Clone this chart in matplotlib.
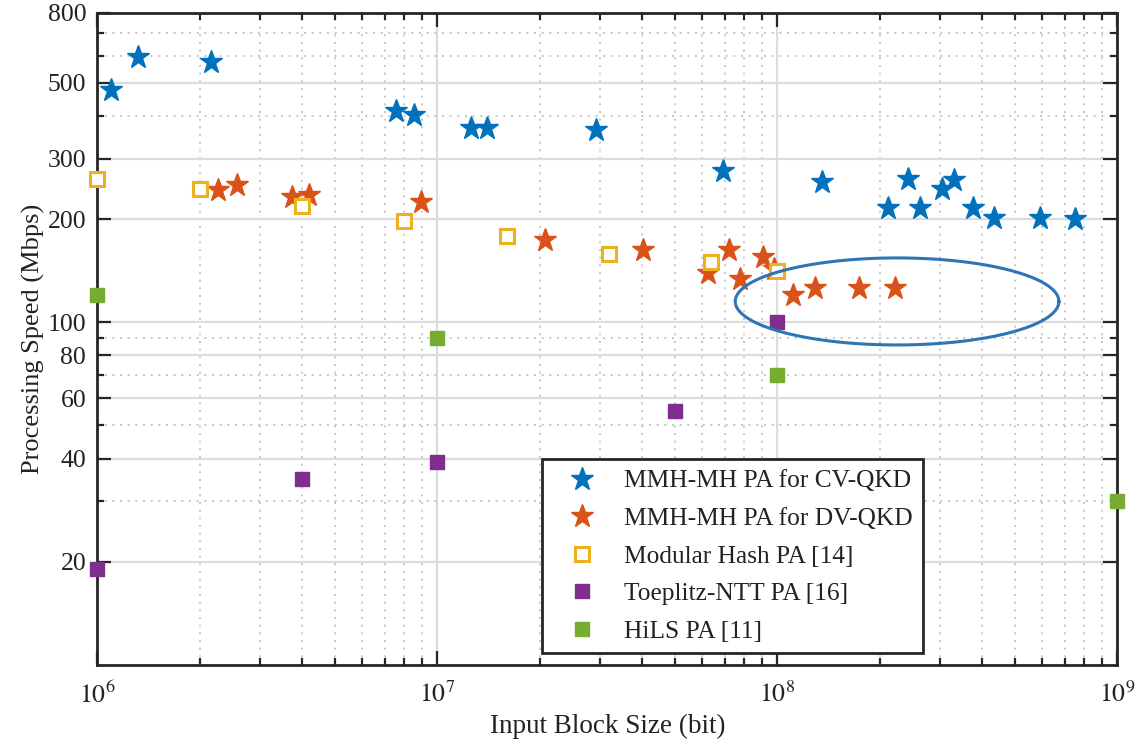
import numpy as np
import matplotlib
matplotlib.use("Agg")
import matplotlib.pyplot as plt
from matplotlib.ticker import FixedLocator, FixedFormatter, NullFormatter

# ---- data -------------------------------------------------------------
cv_size = [1.10e6, 1.32e6, 2.16e6, 7.56e6, 8.54e6, 1.26e7, 1.40e7, 2.93e7,
           6.92e7, 1.35e8, 2.11e8, 2.42e8, 2.62e8, 3.06e8, 3.30e8, 3.77e8,
           4.34e8, 5.91e8, 7.50e8]
cv_speed = [476, 593, 576, 413, 402, 368, 370, 364,
            276, 256, 216, 261, 216, 244, 260, 216,
            201, 202, 200]

dv_size = [2.26e6, 2.58e6, 3.75e6, 4.19e6, 8.98e6, 2.08e7, 4.04e7, 6.27e7,
           7.21e7, 7.76e7, 9.10e7, 9.75e7, 1.11e8, 1.29e8, 1.74e8, 2.22e8]
dv_speed = [243, 252, 232, 235, 225, 174, 162, 139,
            163, 134, 155, 143, 120, 126, 126, 126]

mod_size = [1e6, 2e6, 4e6, 8e6, 1.6e7, 3.2e7, 6.4e7, 1e8]
mod_speed = [261, 244, 219, 197, 178, 158, 150, 141]

ntt_size = [1e6, 4e6, 1e7, 5e7, 1e8]
ntt_speed = [19, 35, 39, 55, 100]

hils_size = [1e6, 1e7, 1e8, 1e9]
hils_speed = [120, 90, 70, 30]

legend_labels = ["MMH-MH PA for CV-QKD", "MMH-MH PA for DV-QKD",
                 "Modular Hash PA [14]", "Toeplitz-NTT PA [16]", "HiLS PA [11]"]

y_major = [20, 40, 60, 80, 100, 200, 300, 500, 800]
y_minor = [30, 50, 70, 90, 400, 600, 700]
x_major = [1e6, 1e7, 1e8, 1e9]
x_major_labels = [r"$10^{6}$", r"$10^{7}$", r"$10^{8}$", r"$10^{9}$"]

# ---- style ------------------------------------------------------------
plt.rcParams["font.family"] = ["Liberation Serif", "DejaVu Serif"]
plt.rcParams["mathtext.fontset"] = "stix"

C_BLUE = "#0072BD"
C_ORANGE = "#D95319"
C_YELLOW = "#EDB120"
C_PURPLE = "#7E2F8E"
C_GREEN = "#77AC30"
C_AXIS = "#262626"
C_TEXT = "#222222"

fig = plt.figure(figsize=(11.37, 7.44), dpi=100)
ax = fig.add_axes([0.0856, 0.1062, 0.8971, 0.8767])
ax.set_xscale("log")
ax.set_yscale("log")
ax.set_xlim(1e6, 1e9)
ax.set_ylim(10, 800)

# grid
ax.grid(True, which="major", color="#dcdcdc", linestyle="-", linewidth=1.6, zorder=0)
ax.grid(True, which="minor", color="#bdbdbd", linestyle=(0, (1.2, 3.4)), linewidth=1.2, zorder=0)
ax.set_axisbelow(True)

# markers
common = dict(linestyle="none", clip_on=False)
ax.plot(cv_size, cv_speed, marker="*", markersize=17, color=C_BLUE,
        markeredgecolor=C_BLUE, label=legend_labels[0], zorder=3, **common)
ax.plot(dv_size, dv_speed, marker="*", markersize=17, color=C_ORANGE,
        markeredgecolor=C_ORANGE, label=legend_labels[1], zorder=3, **common)
ax.plot(mod_size, mod_speed, marker="s", markersize=9.5, markerfacecolor="white",
        markeredgecolor=C_YELLOW, markeredgewidth=2.2, label=legend_labels[2],
        zorder=4, **common)
ax.plot(ntt_size, ntt_speed, marker="s", markersize=10, color=C_PURPLE,
        markeredgecolor=C_PURPLE, label=legend_labels[3], zorder=4, **common)
ax.plot(hils_size, hils_speed, marker="s", markersize=10, color=C_GREEN,
        markeredgecolor=C_GREEN, label=legend_labels[4], zorder=4, **common)

# highlight ellipse around the large-block DV-QKD results (drawn in log space)
t = np.linspace(0, 2 * np.pi, 400)
cx, cy = np.log10(2.25e8), np.log10(115)
a, b = 0.476, 0.127
ax.plot(10 ** (cx + a * np.cos(t)), 10 ** (cy + b * np.sin(t)),
        color="#2E75B6", linewidth=2.2, zorder=5)

# ticks
ax.xaxis.set_major_locator(FixedLocator(x_major))
ax.xaxis.set_major_formatter(FixedFormatter(x_major_labels))
x_minor = [m * 10.0 ** e for e in (6, 7, 8) for m in range(2, 10)]
ax.xaxis.set_minor_locator(FixedLocator(x_minor))
ax.xaxis.set_minor_formatter(NullFormatter())

ax.yaxis.set_major_locator(FixedLocator(y_major))
ax.yaxis.set_major_formatter(FixedFormatter([str(v) for v in y_major]))
ax.yaxis.set_minor_locator(FixedLocator(y_minor))
ax.yaxis.set_minor_formatter(NullFormatter())

ax.tick_params(which="both", direction="in", top=True, right=True,
               color=C_AXIS, width=1.6)
ax.tick_params(which="major", length=10, labelsize=18.5, pad=8, labelcolor=C_TEXT)
ax.tick_params(which="minor", length=5)
ax.tick_params(axis="x", which="major", pad=12)

for sp in ax.spines.values():
    sp.set_color(C_AXIS)
    sp.set_linewidth(2.0)

ax.set_xlabel("Input Block Size (bit)", fontsize=19.5, labelpad=4, color=C_TEXT)
ax.set_ylabel("Processing Speed (Mbps)", fontsize=19, labelpad=2, color=C_TEXT)

leg = ax.legend(loc="lower right", bbox_to_anchor=(0.8095, 0.018), fontsize=18.3,
                frameon=True, fancybox=False, edgecolor=C_AXIS, framealpha=1,
                borderpad=0.42, labelspacing=0.58, handlelength=2.3,
                handletextpad=0.5, borderaxespad=0, numpoints=1)
leg.get_frame().set_linewidth(2.0)
for txt in leg.get_texts():
    txt.set_color(C_TEXT)

fig.savefig("out.png", dpi=100)
